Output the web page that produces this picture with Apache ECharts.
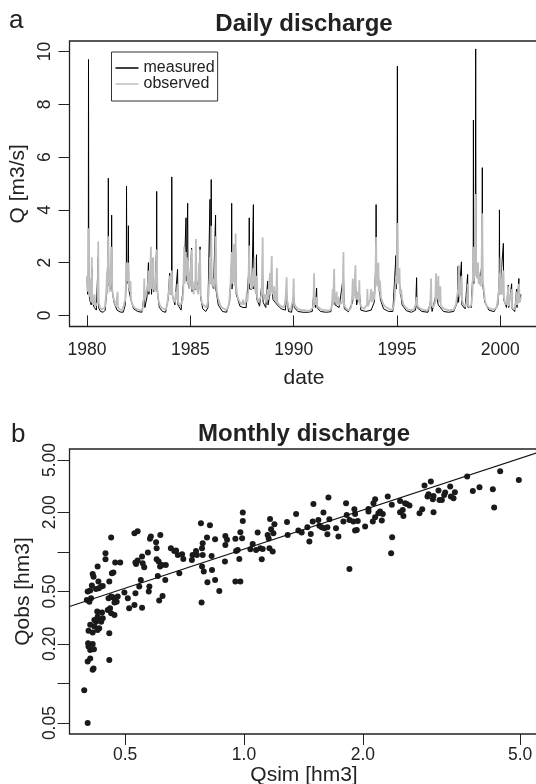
<!DOCTYPE html>
<html><head><meta charset="utf-8">
<script src="https://cdn.jsdelivr.net/npm/echarts@6/dist/echarts.min.js"></script>
<style>html,body{margin:0;padding:0;background:#fff}#c{width:536px;height:784px}</style>
</head><body><div id="c"></div>
<script>
// ---------- Panel a: daily discharge (decimal year, Q m3/s) ----------
const yearTicks = [1980, 1985, 1990, 1995, 2000];
const qTicks = [0, 2, 4, 6, 8, 10];
const seriesNames = ['measured', 'observed'];

const measured = [
[1980.00,1.4],[1980.03,0.8],[1980.06,1.5],[1980.07,9.7],[1980.085,1.2],[1980.12,0.6],[1980.20,0.4],[1980.23,1.8],[1980.25,0.5],[1980.35,0.3],[1980.45,0.2],[1980.54,2.2],[1980.56,0.3],[1980.65,0.15],[1980.78,0.12],[1980.88,0.2],[1980.95,1.0],
[1981.02,2.5],[1981.03,5.2],[1981.045,1.2],[1981.12,1.0],[1981.18,2.0],[1981.19,3.8],[1981.205,1.0],[1981.30,0.5],[1981.45,0.2],[1981.60,0.13],[1981.75,0.12],[1981.85,0.4],[1981.90,1.5],[1981.91,4.9],[1981.925,1.2],[1981.99,2.0],
[1982.00,3.4],[1982.015,1.0],[1982.12,0.6],[1982.25,0.25],[1982.45,0.15],[1982.65,0.12],[1982.77,0.8],[1982.80,0.3],[1982.90,0.7],[1982.97,2.0],[1982.99,0.8],
[1983.09,1.5],[1983.12,0.8],[1983.20,2.15],[1983.22,0.9],[1983.30,1.0],[1983.36,2.5],[1983.37,4.7],[1983.385,1.0],[1983.50,0.3],[1983.65,0.15],[1983.80,0.12],[1983.92,0.6],
[1984.00,1.6],[1984.02,0.8],[1984.09,1.5],[1984.10,5.25],[1984.115,0.8],[1984.25,0.4],[1984.38,1.75],[1984.40,0.4],[1984.55,0.2],[1984.62,0.15],[1984.70,1.5],[1984.79,3.7],[1984.805,1.3],[1984.87,4.25],[1984.885,1.2],[1984.96,1.0],
[1985.06,2.55],[1985.08,0.9],[1985.20,1.0],[1985.30,1.0],[1985.45,1.5],[1985.47,2.6],[1985.49,0.7],[1985.60,0.25],[1985.75,0.15],[1985.85,0.3],[1985.95,4.4],[1985.965,1.2],
[1986.00,2.8],[1986.01,5.15],[1986.025,1.3],[1986.12,1.0],[1986.22,3.8],[1986.235,1.0],[1986.35,0.4],[1986.55,0.15],[1986.75,0.12],[1986.90,0.5],[1986.99,2.0],
[1987.00,4.25],[1987.015,1.0],[1987.10,2.0],[1987.19,2.5],[1987.22,0.8],[1987.40,0.35],[1987.55,0.3],[1987.70,0.3],[1987.84,1.8],[1987.85,3.7],[1987.865,1.0],[1987.98,1.0],
[1988.05,4.2],[1988.065,1.0],[1988.19,1.2],[1988.20,2.3],[1988.22,0.6],[1988.35,0.35],[1988.50,1.5],[1988.52,0.5],[1988.65,0.3],[1988.74,1.3],[1988.76,0.4],[1988.85,0.8],[1988.94,1.2],
[1989.00,0.6],[1989.20,0.4],[1989.40,0.25],[1989.60,0.2],[1989.66,0.8],[1989.75,0.15],[1989.90,0.12],
[1990.00,0.8],[1990.03,0.3],[1990.20,0.15],[1990.45,0.12],[1990.70,0.12],[1990.90,0.15],[1990.99,1.0],
[1991.05,0.3],[1991.11,1.04],[1991.13,0.3],[1991.30,0.15],[1991.55,0.12],[1991.80,0.14],[1991.96,1.0],
[1992.00,0.4],[1992.20,0.3],[1992.41,1.5],[1992.45,0.25],[1992.65,0.14],[1992.85,0.5],[1992.99,1.2],
[1993.05,0.4],[1993.18,0.9],[1993.25,0.2],[1993.50,0.15],[1993.75,0.2],[1993.90,0.5],[1993.98,2.0],[1993.99,4.2],
[1994.005,1.4],[1994.10,1.5],[1994.20,0.6],[1994.35,0.25],[1994.60,0.15],[1994.80,0.15],[1994.95,2.27],[1994.97,1.0],
[1995.01,3.0],[1995.02,9.45],[1995.035,1.3],[1995.12,1.2],[1995.25,0.4],[1995.45,0.18],[1995.70,0.12],[1995.90,0.2],[1995.95,1.43],[1995.97,0.3],
[1996.20,0.15],[1996.50,0.12],[1996.65,0.6],[1996.70,0.15],[1996.89,0.8],
[1997.00,0.4],[1997.25,0.15],[1997.50,0.12],[1997.75,0.15],[1997.92,0.5],[1997.96,1.87],[1997.98,0.5],
[1998.12,2.03],[1998.14,0.4],[1998.30,0.25],[1998.42,1.55],[1998.44,0.3],[1998.60,0.3],[1998.69,2.0],[1998.70,7.4],[1998.715,1.2],[1998.79,2.0],[1998.81,10.1],[1998.825,1.5],[1998.92,1.9],
[1999.00,1.2],[1999.12,2.0],[1999.13,5.6],[1999.145,1.2],[1999.25,0.5],[1999.45,0.2],[1999.70,0.14],[1999.88,0.4],[1999.95,1.5],[1999.96,4.0],[1999.975,0.8],
[2000.15,2.73],[2000.165,0.6],[2000.30,0.3],[2000.39,1.15],[2000.41,0.3],[2000.55,1.2],[2000.57,0.25],[2000.70,0.15],[2000.79,1.0],[2000.81,0.3],[2000.90,1.4],[2000.92,0.5],[2001.00,0.8]
];

const observed = [
[1980.00,1.5],[1980.02,0.9],[1980.05,1.2],[1980.07,3.3],[1980.09,1.0],[1980.12,0.7],[1980.15,1.4],[1980.17,0.6],[1980.21,0.5],[1980.23,2.2],[1980.25,0.6],[1980.30,0.4],[1980.36,0.8],[1980.40,0.35],[1980.47,0.3],[1980.52,0.5],[1980.54,2.8],[1980.56,0.5],[1980.62,0.3],[1980.72,0.22],[1980.80,0.2],[1980.86,0.3],[1980.90,0.6],[1980.93,0.9],[1980.96,1.5],[1980.98,0.8],
[1981.03,3.0],[1981.05,1.2],[1981.08,1.8],[1981.10,0.9],[1981.14,1.4],[1981.17,2.6],[1981.19,2.4],[1981.22,1.0],[1981.27,0.7],[1981.33,0.5],[1981.40,0.35],[1981.46,0.3],[1981.48,0.9],[1981.50,0.3],[1981.60,0.22],[1981.72,0.2],[1981.80,0.25],[1981.85,0.6],[1981.88,1.2],[1981.91,2.0],[1981.93,1.3],[1981.97,1.6],
[1982.00,2.0],[1982.02,1.1],[1982.06,0.9],[1982.10,1.3],[1982.13,0.6],[1982.20,0.4],[1982.28,0.3],[1982.40,0.25],[1982.55,0.2],[1982.68,0.2],[1982.74,0.5],[1982.77,1.4],[1982.79,0.6],[1982.85,0.8],[1982.90,1.0],[1982.95,1.2],[1982.97,1.7],[1982.99,0.9],
[1983.04,1.1],[1983.09,2.6],[1983.11,1.0],[1983.15,1.3],[1983.20,2.2],[1983.23,1.0],[1983.28,0.9],[1983.33,1.5],[1983.38,2.5],[1983.40,1.0],[1983.45,0.6],[1983.52,0.4],[1983.60,0.3],[1983.70,0.25],[1983.80,0.22],[1983.88,0.4],[1983.93,0.8],[1983.97,1.0],
[1984.00,1.5],[1984.03,0.8],[1984.07,1.2],[1984.10,1.7],[1984.13,0.8],[1984.18,0.6],[1984.25,0.5],[1984.30,0.9],[1984.35,0.6],[1984.38,1.2],[1984.41,0.5],[1984.50,0.35],[1984.58,0.3],[1984.63,0.6],[1984.66,1.0],[1984.70,2.6],[1984.72,1.2],[1984.75,1.6],[1984.78,2.4],[1984.80,1.5],[1984.83,2.2],[1984.86,1.2],[1984.88,2.1],[1984.92,1.4],[1984.95,1.0],[1984.98,1.3],
[1985.02,1.8],[1985.06,2.5],[1985.08,1.0],[1985.12,1.2],[1985.16,0.8],[1985.20,1.3],[1985.24,1.0],[1985.27,2.9],[1985.29,1.2],[1985.33,1.0],[1985.38,0.8],[1985.42,2.0],[1985.45,1.0],[1985.47,2.5],[1985.50,0.8],[1985.55,0.5],[1985.62,0.4],[1985.70,0.35],[1985.78,0.3],[1985.84,0.5],[1985.88,0.8],[1985.92,1.4],[1985.95,2.2],[1985.98,1.2],
[1986.01,3.4],[1986.03,1.6],[1986.07,1.1],[1986.12,1.4],[1986.16,1.0],[1986.20,2.0],[1986.22,3.0],[1986.25,1.3],[1986.30,0.8],[1986.36,0.6],[1986.44,0.4],[1986.52,0.3],[1986.60,0.25],[1986.70,0.22],[1986.80,0.25],[1986.86,0.4],[1986.90,0.7],[1986.94,1.1],[1986.97,1.8],
[1987.00,2.4],[1987.02,1.2],[1987.06,1.5],[1987.10,2.7],[1987.12,1.3],[1987.16,1.1],[1987.19,3.1],[1987.21,1.2],[1987.26,0.8],[1987.32,0.6],[1987.40,0.5],[1987.48,0.4],[1987.56,0.6],[1987.60,0.4],[1987.68,0.5],[1987.72,0.8],[1987.76,0.5],[1987.80,0.9],[1987.85,2.65],[1987.87,1.2],[1987.92,1.5],[1987.96,1.0],
[1988.00,1.3],[1988.05,1.8],[1988.07,1.1],[1988.11,2.2],[1988.13,1.0],[1988.18,0.8],[1988.20,1.5],[1988.23,0.7],[1988.30,0.5],[1988.38,0.45],[1988.45,0.8],[1988.50,2.95],[1988.52,0.9],[1988.58,0.6],[1988.64,0.8],[1988.68,0.5],[1988.74,1.0],[1988.78,0.6],[1988.82,1.3],[1988.86,1.6],[1988.88,0.8],[1988.94,2.25],[1988.96,1.0],
[1989.00,0.8],[1989.05,1.1],[1989.10,0.6],[1989.15,0.5],[1989.19,1.8],[1989.21,0.5],[1989.30,0.4],[1989.40,0.35],[1989.50,0.3],[1989.57,0.4],[1989.62,0.8],[1989.66,1.45],[1989.68,0.6],[1989.75,0.3],[1989.85,0.2],[1989.92,0.25],[1989.97,0.6],
[1990.00,1.4],[1990.02,0.5],[1990.08,0.35],[1990.20,0.25],[1990.35,0.2],[1990.50,0.2],[1990.65,0.18],[1990.80,0.18],[1990.88,0.2],[1990.93,0.3],[1990.96,0.6],[1990.99,1.6],
[1991.01,0.6],[1991.06,0.4],[1991.11,0.7],[1991.14,0.35],[1991.22,0.3],[1991.35,0.22],[1991.50,0.2],[1991.65,0.18],[1991.78,0.2],[1991.85,0.35],[1991.89,1.0],[1991.91,0.4],[1991.96,1.77],[1991.98,0.5],
[1992.03,0.6],[1992.08,0.9],[1992.10,0.4],[1992.16,0.7],[1992.20,0.4],[1992.28,0.35],[1992.36,0.5],[1992.41,2.4],[1992.43,0.5],[1992.50,0.3],[1992.60,0.22],[1992.70,0.2],[1992.78,0.3],[1992.83,0.7],[1992.86,1.4],[1992.88,0.6],[1992.93,0.8],[1992.99,1.9],
[1993.01,0.8],[1993.06,0.6],[1993.12,0.9],[1993.15,0.5],[1993.18,1.33],[1993.20,0.5],[1993.28,0.3],[1993.40,0.25],[1993.55,0.4],[1993.57,1.0],[1993.59,0.35],[1993.70,0.6],[1993.75,1.0],[1993.78,0.5],[1993.85,0.9],[1993.90,0.6],[1993.95,1.2],[1993.99,2.97],
[1994.01,1.5],[1994.05,1.1],[1994.10,2.0],[1994.12,0.9],[1994.18,1.3],[1994.22,0.7],[1994.30,0.5],[1994.40,0.35],[1994.50,0.3],[1994.62,0.25],[1994.75,0.2],[1994.85,0.35],[1994.90,0.8],[1994.95,1.5],[1994.98,1.2],
[1995.02,3.5],[1995.04,1.6],[1995.08,1.2],[1995.12,1.8],[1995.15,0.8],[1995.20,1.0],[1995.25,0.6],[1995.32,0.4],[1995.42,0.3],[1995.55,0.22],[1995.70,0.2],[1995.82,0.22],[1995.90,0.4],[1995.95,0.7],[1995.98,0.4],
[1996.05,0.3],[1996.15,0.25],[1996.30,0.2],[1996.45,0.2],[1996.58,0.25],[1996.62,0.6],[1996.65,1.4],[1996.67,0.4],[1996.75,0.3],[1996.85,0.5],[1996.89,1.6],[1996.91,0.6],[1996.96,0.8],
[1997.00,1.5],[1997.03,0.5],[1997.10,1.1],[1997.12,0.4],[1997.20,0.3],[1997.30,0.25],[1997.45,0.2],[1997.60,0.2],[1997.75,0.22],[1997.85,0.4],[1997.92,0.8],[1997.96,1.0],
[1998.00,1.9],[1998.02,0.7],[1998.08,0.9],[1998.12,1.5],[1998.14,0.6],[1998.22,0.4],[1998.32,0.35],[1998.40,0.6],[1998.42,1.2],[1998.44,0.4],[1998.52,0.3],[1998.60,0.4],[1998.66,0.9],[1998.70,2.6],[1998.72,1.3],[1998.76,1.8],[1998.79,1.5],[1998.81,4.6],[1998.83,1.8],[1998.87,1.4],[1998.92,2.0],[1998.95,1.2],
[1999.00,1.5],[1999.05,1.1],[1999.09,1.6],[1999.13,3.87],[1999.15,1.3],[1999.20,1.0],[1999.25,0.6],[1999.32,0.4],[1999.42,0.3],[1999.55,0.25],[1999.70,0.22],[1999.82,0.3],[1999.88,0.6],[1999.93,0.9],[1999.96,1.6],[1999.98,0.8],
[2000.01,2.2],[2000.03,0.9],[2000.08,0.8],[2000.15,1.7],[2000.17,0.7],[2000.22,0.5],[2000.30,0.4],[2000.39,1.1],[2000.41,0.35],[2000.50,0.3],[2000.55,1.0],[2000.57,0.3],[2000.68,0.22],[2000.76,0.5],[2000.79,0.9],[2000.82,0.4],[2000.88,0.6],[2000.90,1.2],[2000.95,0.5],[2001.00,0.7]
];

// ---------- Panel b: monthly discharge (hm3) ----------
const simTicks = [0.5, 1, 2, 5];
const obsTicks = [0.05, 0.1, 0.2, 0.5, 1, 2, 5];
const obsLabels = [0.05, 0.2, 0.5, 2, 5];

const qsim = [
0.394,0.402,0.414,0.416,0.408,0.402,0.403,0.414,0.408,0.417,0.404,
0.404,0.414,0.426,0.430,0.418,0.408,0.422,0.430,0.439,0.426,0.418,0.435,
0.425,0.437,0.452,0.458,0.456,0.456,0.461,0.470,
0.400,0.406,0.410,0.402,0.408,0.412,0.422,0.429,0.435,0.439,
0.416,0.414,0.428,0.426,0.446,0.446,0.461,0.456,
0.454,0.461,0.465,0.472,0.479,0.470,0.476,
0.463,0.467,0.472,0.486,0.498,0.508,0.512,0.528,0.531,
0.543,0.548,0.533,0.531,0.538,0.552,0.559,0.554,
0.528,0.538,0.552,0.571,0.576,0.574,
0.581,0.578,0.599,0.601,0.614,
0.601,0.608,0.613,0.605,0.620,0.634,0.632,0.622,0.610,
0.653,0.666,0.673,0.680,0.697,0.702,0.686,
0.738,0.741,0.756,0.760,0.778,0.820,
0.786,0.783,0.786,0.806,0.828,0.845,
0.783,0.791,0.830,0.808,0.845,0.866,0.781,
0.897,0.906,0.897,0.951,0.895,0.951,0.979,0.955,0.964,0.973,
0.993,0.993,0.979,0.989,
1.038,1.073,1.052,1.083,1.100,1.109,1.115,
1.164,1.171,1.155,1.148,1.187,1.194,1.182,1.160,
1.285,1.290,1.355,1.373,
1.400,1.447,1.464,1.476,1.493,1.499,1.543,1.552,1.573,1.589,
1.598,1.626,1.636,1.645,1.626,1.710,1.734,1.785,1.813,1.820,
1.849,1.849,1.892,1.911,1.903,1.930,1.941,1.911,2.026,2.066,
2.066,2.119,2.127,2.148,2.148,2.189,2.211,2.246,2.233,2.312,
2.367,2.372,2.358,2.484,2.484,2.523,2.533,2.558,2.583,2.624,
2.782,2.826,2.864,2.915,2.932,2.972,3.007,3.019,3.019,3.108,
3.126,3.169,3.212,3.231,3.327,3.340,3.392,3.419,3.673,3.796,
3.947,4.266,4.299,4.452,4.964
];
const qobs = [
0.089,0.050,0.127,0.130,0.155,0.147,0.202,0.200,0.180,0.182,0.191,
0.252,0.244,0.255,0.263,0.271,0.279,0.295,0.304,0.313,0.322,0.304,0.295,
0.352,0.346,0.362,0.373,0.241,0.151,0.342,0.332,
0.432,0.419,0.444,0.500,0.508,0.555,0.523,0.530,0.545,0.551,
0.649,0.681,0.595,0.774,0.880,0.977,1.286,0.595,
0.444,0.458,0.452,0.432,0.458,0.412,0.419,
0.689,0.697,0.830,0.830,0.491,0.444,0.373,0.395,0.485,
0.545,0.613,0.811,0.830,0.860,0.922,0.765,0.820,
1.388,1.437,0.377,0.989,0.545,0.500,
1.309,1.257,1.185,1.067,1.347,
0.880,0.845,0.774,0.657,0.797,0.797,0.613,0.463,0.427,
1.067,1.018,1.024,0.949,0.960,0.885,0.689,
0.870,0.949,1.018,0.949,1.653,1.596,
1.164,1.067,0.949,1.286,0.933,1.249,
0.774,0.709,0.730,0.588,0.613,0.505,0.412,
1.324,1.235,1.131,1.257,0.845,0.595,0.595,1.018,1.036,0.885,
1.992,1.722,1.412,1.271,
1.048,1.036,1.151,1.404,1.067,0.880,1.054,
1.783,1.488,1.264,1.347,1.388,1.624,1.006,1.067,
1.692,1.347,1.946,1.454,
1.404,1.541,1.199,1.371,1.702,2.319,1.752,1.578,1.541,1.992,
1.514,1.363,2.591,1.773,1.541,1.514,1.309,1.702,2.346,1.912,
1.752,0.743,1.702,1.454,2.112,1.471,1.722,1.946,1.559,2.027,
2.124,1.702,2.346,2.516,1.836,1.969,2.027,1.946,1.732,2.636,
2.279,1.294,0.977,2.444,2.004,2.087,1.879,2.346,2.319,2.252,
1.969,2.112,3.197,2.636,2.746,3.428,2.516,2.004,2.667,2.928,
2.487,2.487,2.714,2.827,3.141,2.636,2.561,2.844,3.742,2.911,
3.105,2.998,2.175,4.108,3.529
];
// fitted line through the scatter (Qsim, Qobs at the two ends of the axis)
const fitSim = [0.3616, 5.567];
const fitObs = [0.385, 5.71];

// ---------- chart ----------
const FONT = '"Liberation Sans", Arial, Helvetica, sans-serif';
const INK = '#222';
const chart = echarts.init(document.getElementById('c'), null, {renderer: 'canvas', width: 536, height: 784});

const scatterData = qsim.map((s, i) => [s, qobs[i]]);
const fitData = fitSim.map((s, i) => [s, fitObs[i]]);

function baseAxis() {
  return {
    axisLine: {show: false},
    splitLine: {show: false},
    nameLocation: 'middle',
    nameTextStyle: {fontSize: 21, color: INK, fontFamily: FONT},
  };
}

const option = {
  animation: false,
  backgroundColor: '#fff',
  textStyle: {fontFamily: FONT},
  title: [
    {text: 'a', left: 9, top: 8, padding: 0, textStyle: {fontSize: 26, fontWeight: 'normal', color: INK, fontFamily: FONT}},
    {text: 'Daily discharge', left: 304, textAlign: 'center', top: 12, padding: 0,
     textStyle: {fontSize: 24, fontWeight: 'bold', color: INK, fontFamily: FONT}},
    {text: 'b', left: 11, top: 422, padding: 0, textStyle: {fontSize: 26, fontWeight: 'normal', color: INK, fontFamily: FONT}},
    {text: 'Monthly discharge', left: 304, textAlign: 'center', top: 422, padding: 0,
     textStyle: {fontSize: 24, fontWeight: 'bold', color: INK, fontFamily: FONT}}
  ],
  legend: {
    data: seriesNames,
    left: 111.5, top: 52, orient: 'vertical',
    icon: 'rect', itemWidth: 23, itemHeight: 1.5, itemGap: 0,
    padding: [8, 3, 9, 4],
    borderColor: '#333', borderWidth: 1, backgroundColor: '#fff',
    textStyle: {fontSize: 16, color: INK, fontFamily: FONT, lineHeight: 15.4}
  },
  grid: [
    {left: 69.5, top: 41, width: 469, height: 285.5, show: true, borderColor: INK, borderWidth: 1.3,
     backgroundColor: 'transparent', containLabel: false, outerBoundsMode: 'none'},
    {left: 69.5, top: 449, width: 469, height: 285, show: true, borderColor: INK, borderWidth: 1.3,
     backgroundColor: 'transparent', containLabel: false, outerBoundsMode: 'none'}
  ],
  xAxis: [
    Object.assign(baseAxis(), {
      gridIndex: 0, type: 'value', min: 1979.15, max: 2001.85,
      name: 'date', nameGap: 41,
      axisTick: {length: 11, lineStyle: {color: INK}, customValues: yearTicks},
      axisLabel: {customValues: yearTicks, fontSize: 17.5, color: INK, margin: 15, fontFamily: FONT, formatter: v => String(Math.round(v))}
    }),
    Object.assign(baseAxis(), {
      gridIndex: 1, type: 'log', logBase: 10, min: 0.3616, max: 5.567,
      name: 'Qsim [hm3]', nameGap: 31,
      axisTick: {length: 11, lineStyle: {color: INK}, customValues: simTicks},
      axisLabel: {customValues: simTicks, fontSize: 17.5, color: INK, margin: 12, fontFamily: FONT, formatter: v => Number(v).toFixed(1)}
    })
  ],
  yAxis: [
    Object.assign(baseAxis(), {
      gridIndex: 0, type: 'value', min: -0.42, max: 10.4,
      name: 'Q [m3/s]', nameGap: 36,
      axisTick: {length: 11, lineStyle: {color: INK}, customValues: qTicks},
      axisLabel: {customValues: qTicks, rotate: 90, fontSize: 17.5, color: INK, margin: 15, fontFamily: FONT, formatter: v => String(Math.round(v))}
    }),
    Object.assign(baseAxis(), {
      gridIndex: 1, type: 'log', logBase: 10, min: 0.0413, max: 6.06,
      name: 'Qobs [hm3]', nameGap: 36,
      axisTick: {length: 12, lineStyle: {color: INK}, customValues: obsTicks},
      axisLabel: {customValues: obsLabels, rotate: 90, fontSize: 17.5, color: INK, margin: 10, fontFamily: FONT, formatter: v => Number(v).toFixed(2)}
    })
  ],
  series: [
    {name: 'measured', type: 'line', xAxisIndex: 0, yAxisIndex: 0, data: measured,
     symbol: 'none', showSymbol: false, color: '#000', lineStyle: {color: '#000', width: 1}, clip: true, z: 2},
    {name: 'observed', type: 'line', xAxisIndex: 0, yAxisIndex: 0, data: observed,
     symbol: 'none', showSymbol: false, color: '#bebebe', lineStyle: {color: '#bebebe', width: 1.8}, clip: true, z: 3},
    {name: 'monthly', type: 'scatter', xAxisIndex: 1, yAxisIndex: 1, data: scatterData,
     symbol: 'circle', symbolSize: 6, itemStyle: {color: '#1a1a1a', opacity: 1}, z: 3},
    {name: 'fit', type: 'line', xAxisIndex: 1, yAxisIndex: 1, data: fitData,
     symbol: 'none', showSymbol: false, lineStyle: {color: '#111', width: 1.2}, z: 4}
  ]
};
chart.setOption(option);
</script>
</body></html>
